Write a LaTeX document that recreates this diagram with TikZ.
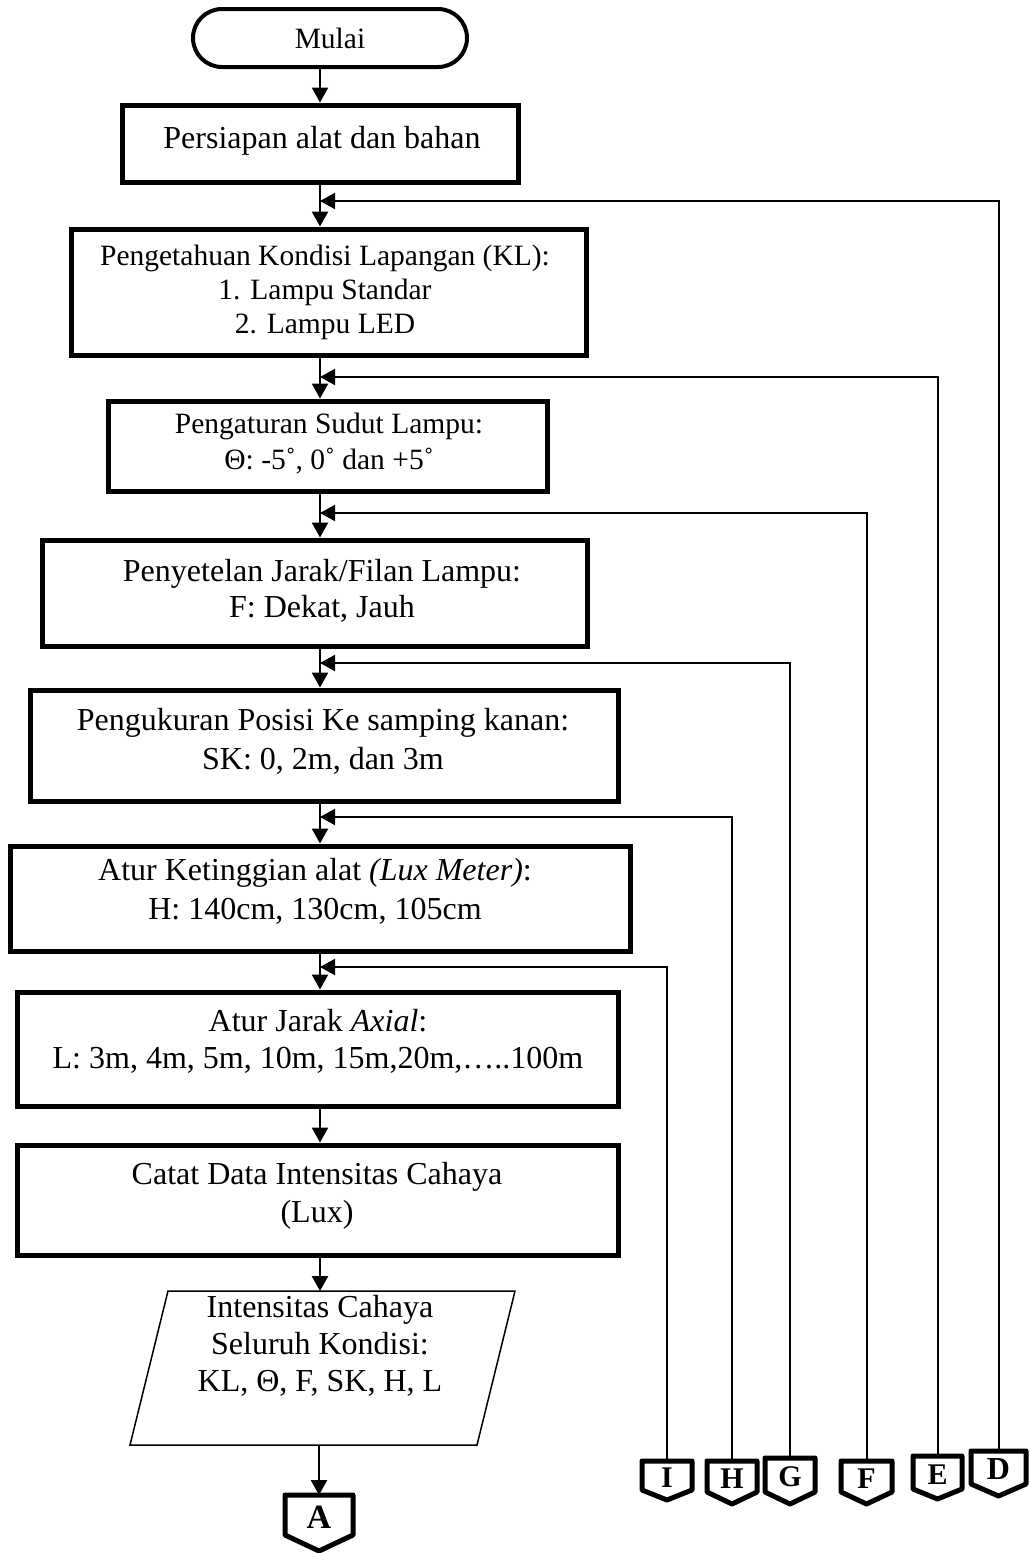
\documentclass[tikz,border=0pt]{standalone}
\usepackage{fontspec}
\setmainfont{Liberation Serif}
\usetikzlibrary{arrows.meta}
\newcommand\opconn[8]{% name, left, right, top, side bottom, tip, letter, size
  \draw[opc] (#2,#4) -- (#3,#4) -- (#3,#5) -- ({(#2+#3)/2},#6) -- (#2,#5) -- cycle;
  \node[optxt] (#1) at ({(#2+#3)/2},{(#4+#5)/2+2}) {\fontsize{#8}{#8}\selectfont #7};
  \coordinate (#1top) at ({(#2+#3)/2},#4);
}
\begin{document}
\begin{tikzpicture}[x=1pt,y=-1pt,
  proc/.style={draw, line width=5pt, rectangle, inner sep=0pt},
  txt/.style={align=center, inner sep=0pt, font=\fontsize{32}{#1}\selectfont},
  stxt/.style={align=center, inner sep=0pt, font=\fontsize{29.5}{#1}\selectfont},
  flow/.style={line width=2.5pt, -{Triangle[length=15pt,width=16pt]}},
  ret/.style={line width=2pt, -{Triangle[length=15pt,width=16pt]}},
  opc/.style={draw, line width=5pt, line join=round},
  optxt/.style={font=\bfseries, inner sep=0pt},
  iobox/.style={draw, line width=1.5pt}
]
\useasboundingbox[fill=white] (0,0) rectangle (1030,1553);

% terminator
\node[draw, line width=4pt, rounded corners=29, minimum width=274, minimum height=58, stxt=30] (start) at (330,38) {Mulai};

% process boxes
\node[proc, minimum width=396, minimum height=77] (b1) at (320,143.5) {};
\node[proc, minimum width=515, minimum height=126] (b2) at (328.5,292) {};
\node[proc, minimum width=439, minimum height=90] (b3) at (327.5,446) {};
\node[proc, minimum width=545, minimum height=106] (b4) at (314.5,593) {};
\node[proc, minimum width=588, minimum height=111] (b5) at (324,745.5) {};
\node[proc, minimum width=620, minimum height=105] (b6) at (320,898.5) {};
\node[proc, minimum width=601, minimum height=114] (b7) at (317.5,1049) {};
\node[proc, minimum width=601, minimum height=110] (b8) at (317.5,1200) {};
% input/output parallelogram
\draw[iobox] (168,1291) -- (515,1291) -- (477,1445) -- (130,1445) -- cycle;
\coordinate (iotop) at (320,1291);
\coordinate (iobot) at (319,1445);

% texts
\node[txt=36] (t1) at (322,141) {Persiapan alat dan bahan};
\node[stxt=34] (t2) at (325,292) {Pengetahuan Kondisi Lapangan (KL):\\1. Lampu Standar\\2. Lampu LED};
\node[stxt=36] (t3) at (329,444) {Pengaturan Sudut Lampu:\\Θ: -5˚, 0˚ dan +5˚};
\node[txt=36] (t4) at (322,591) {Penyetelan Jarak/Filan Lampu:\\F: Dekat, Jauh};
\node[txt=39] (t5) at (323,741) {Pengukuran Posisi Ke samping kanan:\\SK: 0, 2m, dan 3m};
\node[txt=39] (t6) at (315,891) {Atur Ketinggian alat \textit{(Lux Meter)}:\\H: 140cm, 130cm, 105cm};
\node[txt=37] (t7) at (318,1041) {Atur Jarak \textit{Axial}:\\L: 3m, 4m, 5m, 10m, 15m,20m,…..100m};
\node[txt=38] (t8) at (317,1196) {Catat Data Intensitas Cahaya\\(Lux)};
\node[txt=37] (tio) at (320,1346) {Intensitas Cahaya\\Seluruh Kondisi:\\KL, Θ, F, SK, H, L};

% off-page connectors
\opconn{A}{285}{353}{1495}{1535}{1551}{A}{34}
\opconn{I}{642}{692}{1461}{1490}{1500}{I}{30}
\opconn{H}{707}{757}{1461}{1492}{1504}{H}{30}
\opconn{G}{765}{815}{1458}{1492}{1504}{G}{30}
\opconn{F}{841}{892}{1461}{1492}{1504}{F}{30}
\opconn{E}{913}{962}{1456}{1489}{1499}{E}{30}
\opconn{D}{971}{1026}{1451}{1484}{1496}{D}{32}

% junctions on the main line
\coordinate (jD) at (320,201);
\coordinate (jE) at (320,377);
\coordinate (jF) at (320,513);
\coordinate (jG) at (320,663);
\coordinate (jH) at (320,817);
\coordinate (jI) at (320,967);

% main flow
\draw[flow] (start.south -| jD) -- (b1.north -| jD);
\draw[flow] (b1.south -| jD) -- (b2.north -| jD);
\draw[flow] (b2.south -| jD) -- (b3.north -| jD);
\draw[flow] (b3.south -| jD) -- (b4.north -| jD);
\draw[flow] (b4.south -| jD) -- (b5.north -| jD);
\draw[flow] (b5.south -| jD) -- (b6.north -| jD);
\draw[flow] (b6.south -| jD) -- (b7.north -| jD);
\draw[flow] (b7.south -| jD) -- (b8.north -| jD);
\draw[flow] (b8.south -| jD) -- (iotop);
\draw[flow] (iobot) -- (Atop);

% return lines
\draw[ret] (Dtop) |- (jD);
\draw[ret] (Etop) |- (jE);
\draw[ret] (Ftop) |- (jF);
\draw[ret] (Gtop) |- (jG);
\draw[ret] (Htop) |- (jH);
\draw[ret] (Itop) |- (jI);
\end{tikzpicture}
\end{document}
